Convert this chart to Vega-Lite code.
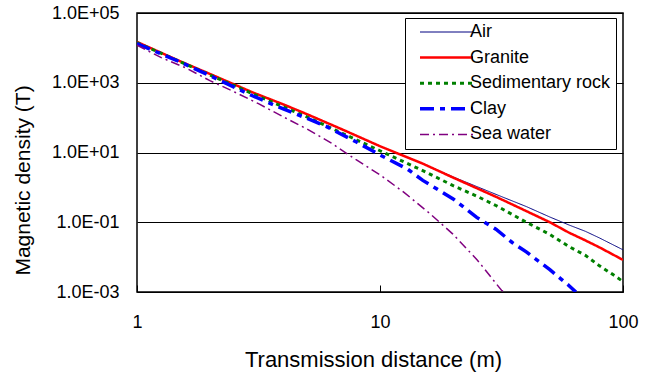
{
  "$schema": "https://vega.github.io/schema/vega-lite/v6.json",
  "width": 486,
  "height": 279,
  "autosize": {"type": "none"},
  "padding": {"left": 137, "top": 13, "right": 31, "bottom": 84},
  "background": "white",
  "config": {
    "font": "Liberation Sans",
    "view": {"stroke": "#000000", "strokeWidth": 1.5},
    "axis": {"labelColor": "#000000", "titleColor": "#000000", "titleFontWeight": "normal"}
  },
  "data": {
    "values": [
      {"series": "Air", "d": 1, "B": 14791},
      {"series": "Air", "d": 1.5, "B": 4169},
      {"series": "Air", "d": 2, "B": 1778},
      {"series": "Air", "d": 3, "B": 524.8},
      {"series": "Air", "d": 4, "B": 239.9},
      {"series": "Air", "d": 5, "B": 125.9},
      {"series": "Air", "d": 7, "B": 45.71},
      {"series": "Air", "d": 10, "B": 15.14},
      {"series": "Air", "d": 15, "B": 4.786},
      {"series": "Air", "d": 20, "B": 1.995},
      {"series": "Air", "d": 30, "B": 0.631},
      {"series": "Air", "d": 40, "B": 0.2818},
      {"series": "Air", "d": 50, "B": 0.1413},
      {"series": "Air", "d": 60, "B": 0.0832},
      {"series": "Air", "d": 70, "B": 0.055},
      {"series": "Air", "d": 80, "B": 0.0355},
      {"series": "Air", "d": 100, "B": 0.0162},

      {"series": "Granite", "d": 1, "B": 14791},
      {"series": "Granite", "d": 1.5, "B": 4169},
      {"series": "Granite", "d": 2, "B": 1778},
      {"series": "Granite", "d": 3, "B": 524.8},
      {"series": "Granite", "d": 4, "B": 239.9},
      {"series": "Granite", "d": 5, "B": 125.9},
      {"series": "Granite", "d": 7, "B": 45.71},
      {"series": "Granite", "d": 10, "B": 15.14},
      {"series": "Granite", "d": 15, "B": 4.786},
      {"series": "Granite", "d": 20, "B": 1.905},
      {"series": "Granite", "d": 30, "B": 0.537},
      {"series": "Granite", "d": 40, "B": 0.2089},
      {"series": "Granite", "d": 50, "B": 0.1},
      {"series": "Granite", "d": 60, "B": 0.0501},
      {"series": "Granite", "d": 70, "B": 0.0302},
      {"series": "Granite", "d": 80, "B": 0.01905},
      {"series": "Granite", "d": 100, "B": 0.00832},

      {"series": "Sedimentary rock", "d": 1, "B": 14125},
      {"series": "Sedimentary rock", "d": 2, "B": 1660},
      {"series": "Sedimentary rock", "d": 3, "B": 478.6},
      {"series": "Sedimentary rock", "d": 5, "B": 104.7},
      {"series": "Sedimentary rock", "d": 7, "B": 35.48},
      {"series": "Sedimentary rock", "d": 10, "B": 11.22},
      {"series": "Sedimentary rock", "d": 15, "B": 3.02},
      {"series": "Sedimentary rock", "d": 20, "B": 1.122},
      {"series": "Sedimentary rock", "d": 25, "B": 0.5623},
      {"series": "Sedimentary rock", "d": 30, "B": 0.302},
      {"series": "Sedimentary rock", "d": 40, "B": 0.1},
      {"series": "Sedimentary rock", "d": 50, "B": 0.0447},
      {"series": "Sedimentary rock", "d": 60, "B": 0.01995},
      {"series": "Sedimentary rock", "d": 70, "B": 0.01122},
      {"series": "Sedimentary rock", "d": 80, "B": 0.005623},
      {"series": "Sedimentary rock", "d": 90, "B": 0.003311},
      {"series": "Sedimentary rock", "d": 100, "B": 0.001995},

      {"series": "Clay", "d": 1, "B": 13183},
      {"series": "Clay", "d": 1.5, "B": 3981},
      {"series": "Clay", "d": 2, "B": 1585},
      {"series": "Clay", "d": 3, "B": 416.9},
      {"series": "Clay", "d": 4, "B": 177.8},
      {"series": "Clay", "d": 5, "B": 95.5},
      {"series": "Clay", "d": 6, "B": 56.23},
      {"series": "Clay", "d": 8, "B": 19.95},
      {"series": "Clay", "d": 10, "B": 8.511},
      {"series": "Clay", "d": 13, "B": 3.311},
      {"series": "Clay", "d": 15, "B": 1.585},
      {"series": "Clay", "d": 20, "B": 0.4677},
      {"series": "Clay", "d": 25, "B": 0.138},
      {"series": "Clay", "d": 30, "B": 0.0631},
      {"series": "Clay", "d": 35, "B": 0.0263},
      {"series": "Clay", "d": 40, "B": 0.01413},
      {"series": "Clay", "d": 50, "B": 0.004365},
      {"series": "Clay", "d": 55, "B": 0.002512},
      {"series": "Clay", "d": 60, "B": 0.001514},
      {"series": "Clay", "d": 64, "B": 0.001},

      {"series": "Sea water", "d": 1, "B": 12023},
      {"series": "Sea water", "d": 1.259, "B": 5248},
      {"series": "Sea water", "d": 1.585, "B": 2692},
      {"series": "Sea water", "d": 1.995, "B": 1148},
      {"series": "Sea water", "d": 2.512, "B": 549.5},
      {"series": "Sea water", "d": 3.162, "B": 251.2},
      {"series": "Sea water", "d": 3.981, "B": 107.2},
      {"series": "Sea water", "d": 5.012, "B": 46.77},
      {"series": "Sea water", "d": 6.31, "B": 18.62},
      {"series": "Sea water", "d": 7.943, "B": 6.31},
      {"series": "Sea water", "d": 10, "B": 2.29},
      {"series": "Sea water", "d": 12.59, "B": 0.708},
      {"series": "Sea water", "d": 15.85, "B": 0.1905},
      {"series": "Sea water", "d": 19.95, "B": 0.0457},
      {"series": "Sea water", "d": 25.12, "B": 0.00832},
      {"series": "Sea water", "d": 31.62, "B": 0.00112},
      {"series": "Sea water", "d": 32.5, "B": 0.001}
    ]
  },
  "mark": {"type": "line", "clip": true},
  "encoding": {
    "x": {
      "field": "d", "type": "quantitative",
      "scale": {"type": "log", "domain": [1, 100], "nice": false},
      "axis": {
        "values": [1, 10, 100],
        "format": "d",
        "grid": false,
        "domain": false,
        "tickSize": -7,
        "tickColor": "#000000",
        "tickWidth": 1,
        "labelFontSize": 18,
        "labelPadding": 28,
        "labelFlush": false,
        "title": "Transmission distance (m)",
        "titleFontSize": 22,
        "titleBaseline": "alphabetic",
        "titleX": 236,
        "titleY": 74
      }
    },
    "y": {
      "field": "B", "type": "quantitative",
      "scale": {"type": "log", "domain": [0.001, 100000], "nice": false},
      "axis": {
        "values": [0.001, 0.1, 10, 1000, 100000],
        "labelExpr": "'1.0E' + (datum.value >= 1 ? '+' : '-') + '0' + abs(round(log(datum.value) / LN10))",
        "grid": true,
        "gridColor": "#000000",
        "gridWidth": 1,
        "gridOpacity": 1,
        "ticks": false,
        "domain": false,
        "labelFontSize": 18,
        "labelPadding": 18,
        "labelFlush": false,
        "title": "Magnetic density (T)",
        "titleFontSize": 21,
        "titleBaseline": "alphabetic",
        "titleAngle": -90,
        "titleX": -108,
        "titleY": 167
      }
    },
    "color": {
      "field": "series", "type": "nominal",
      "scale": {
        "domain": ["Air", "Granite", "Sedimentary rock", "Clay", "Sea water"],
        "range": ["#000080", "#FF0000", "#008000", "#0000FF", "#800080"]
      },
      "legend": {
        "title": null,
        "orient": "none",
        "legendX": 268,
        "legendY": 5,
        "strokeColor": "#000000",
        "fillColor": "#FFFFFF",
        "padding": 5,
        "symbolType": "M1,0H54",
        "symbolSize": 4,
        "labelFontSize": 18,
        "labelOffset": 42,
        "labelColor": "#000000",
        "rowPadding": 7.6
      }
    },
    "strokeDash": {
      "field": "series", "type": "nominal",
      "scale": {
        "domain": ["Air", "Granite", "Sedimentary rock", "Clay", "Sea water"],
        "range": [[1, 0], [1, 0], [4, 4], [14, 6, 5, 6], [9, 4, 2, 4]]
      },
      "legend": null
    },
    "strokeWidth": {
      "field": "series", "type": "nominal",
      "scale": {
        "type": "ordinal",
        "domain": ["Air", "Granite", "Sedimentary rock", "Clay", "Sea water"],
        "range": [1, 2.5, 3, 3.5, 1.5]
      },
      "legend": null
    }
  }
}
